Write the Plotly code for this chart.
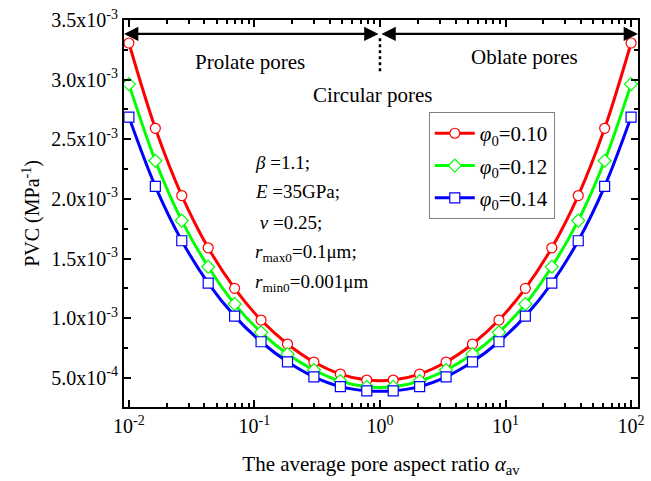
import numpy as np
import plotly.graph_objects as go

# aspect ratio sample points (20 markers, log-spaced from 1e-2 to 1e2)
alpha = [0.01, 0.01624, 0.02637, 0.04281, 0.06952, 0.1129, 0.1833, 0.2976, 0.4833, 0.7848,
         1.274, 2.069, 3.360, 5.456, 8.859, 14.38, 23.36, 37.93, 61.58, 100.0]

pvc_010 = [3.307e-3, 2.592e-3, 2.028e-3, 1.590e-3, 1.250e-3, 0.984e-3, 0.783e-3, 0.632e-3, 0.531e-3, 0.481e-3,
           0.481e-3, 0.531e-3, 0.632e-3, 0.783e-3, 0.984e-3, 1.250e-3, 1.590e-3, 2.028e-3, 2.592e-3, 3.307e-3]
pvc_012 = [2.962e-3, 2.320e-3, 1.818e-3, 1.431e-3, 1.118e-3, 0.881e-3, 0.699e-3, 0.565e-3, 0.472e-3, 0.424e-3,
           0.424e-3, 0.472e-3, 0.565e-3, 0.699e-3, 0.881e-3, 1.118e-3, 1.431e-3, 1.818e-3, 2.320e-3, 2.962e-3]
pvc_014 = [2.686e-3, 2.105e-3, 1.649e-3, 1.294e-3, 1.017e-3, 0.802e-3, 0.634e-3, 0.508e-3, 0.426e-3, 0.391e-3,
           0.391e-3, 0.426e-3, 0.508e-3, 0.634e-3, 0.802e-3, 1.017e-3, 1.294e-3, 1.649e-3, 2.105e-3, 2.686e-3]

series_names = ["<i>φ</i><sub>0</sub>=0.10", "<i>φ</i><sub>0</sub>=0.12", "<i>φ</i><sub>0</sub>=0.14"]
series_vals = [pvc_010, pvc_012, pvc_014]
series_colors = ["#ff0000", "#00ff00", "#0000ff"]
series_symbols = ["circle", "diamond", "square"]

x_tickvals = [0.01, 0.1, 1, 10, 100]
x_ticktext = ["10<sup>-2</sup>", "10<sup>-1</sup>", "10<sup>0</sup>", "10<sup>1</sup>", "10<sup>2</sup>"]
y_tickvals = [5.0e-4, 1.0e-3, 1.5e-3, 2.0e-3, 2.5e-3, 3.0e-3, 3.5e-3]
y_ticktext = ["5.0x10<sup>-4</sup>", "1.0x10<sup>-3</sup>", "1.5x10<sup>-3</sup>", "2.0x10<sup>-3</sup>",
              "2.5x10<sup>-3</sup>", "3.0x10<sup>-3</sup>", "3.5x10<sup>-3</sup>"]

FONT = "Liberation Serif, Times New Roman, serif"

fig = go.Figure()
for i, (name, vals, col, sym) in enumerate(zip(series_names, series_vals, series_colors, series_symbols)):
    fig.add_trace(go.Scatter(
        x=alpha, y=vals, name=name, mode="lines+markers",
        line=dict(color=col, width=3, shape="spline", smoothing=1.0),
        marker=dict(symbol=sym, size=10, color="white",
                    line=dict(color=col, width=1.2)),
        legendgroup=f"g{i}",
    ))

fig.update_layout(
    width=651, height=481,
    margin=dict(l=124, r=6, t=20, b=74),
    paper_bgcolor="white", plot_bgcolor="white",
    font=dict(family=FONT, size=20, color="black"),
    showlegend=True,
    legend=dict(x=0.593, y=0.762, xanchor="left", yanchor="top",
                bordercolor="#7f7f7f", borderwidth=1, bgcolor="white",
                font=dict(family=FONT, size=21), tracegroupgap=2,
                itemwidth=40),
)

fig.update_xaxes(
    type="log", range=[-2.039, 2.055],
    tickmode="array", tickvals=x_tickvals, ticktext=x_ticktext,
    ticks="inside", ticklen=7, tickwidth=2, tickcolor="black",
    showline=True, linecolor="black", linewidth=2, mirror="allticks",
    showgrid=False, zeroline=False,
    minor=dict(ticks="inside", ticklen=4, tickwidth=1.5, tickcolor="black", dtick="D1", showgrid=False),
    tickfont=dict(size=20),
    title=dict(text="The average pore aspect ratio <i>α</i><sub>av</sub>", font=dict(size=21), standoff=20),
)
fig.update_yaxes(
    range=[2.55e-4, 3.5e-3],
    tickmode="array", tickvals=y_tickvals, ticktext=y_ticktext,
    ticks="inside", ticklen=7, tickwidth=2, tickcolor="black",
    showline=True, linecolor="black", linewidth=2, mirror="allticks",
    showgrid=False, zeroline=False,
    minor=dict(ticks="inside", ticklen=4, tickwidth=1.5, tickcolor="black", dtick=2.5e-4, tick0=0, showgrid=False),
    tickfont=dict(size=20),
    title=dict(text="PVC (MPa<sup>-1</sup>)", font=dict(size=20), standoff=6),
)

# arrows
arrow_y = 0.964
mid = 0.498
for x0, x1 in [(0.0, mid), (1.0, mid)]:
    fig.add_annotation(x=x0, y=arrow_y, ax=x1, ay=arrow_y,
                       xref="x domain", yref="y domain", axref="x domain", ayref="y domain",
                       text="", showarrow=True, arrowhead=2, arrowside="end+start",
                       arrowsize=1.3, arrowwidth=2.2, arrowcolor="black")
fig.add_shape(type="line", xref="x domain", yref="y domain", x0=mid, x1=mid, y0=0.953, y1=0.866,
              line=dict(color="black", width=2.5, dash="dot"))

# region labels
for txt, x, y in [("Prolate pores", 0.246, 0.891), ("Oblate pores", 0.779, 0.904),
                  ("Circular pores", 0.484, 0.806)]:
    fig.add_annotation(x=x, y=y, xref="x domain", yref="y domain", text=txt, showarrow=False,
                       font=dict(size=21, family=FONT), xanchor="center", yanchor="middle")

# parameter block
params = ["<i>β</i> =1.1;", "<i>E</i> =35GPa;", " <i>ν</i> =0.25;",
          "<i>r</i><sub>max0</sub>=0.1μm;", "<i>r</i><sub>min0</sub>=0.001μm"]
param_y = [0.633, 0.556, 0.478, 0.398, 0.320]
for txt, y in zip(params, param_y):
    fig.add_annotation(x=0.251, y=y, xref="x domain", yref="y domain", text=txt, showarrow=False,
                       font=dict(size=19, family=FONT), xanchor="left", yanchor="middle")

fig.write_html("out.html")
